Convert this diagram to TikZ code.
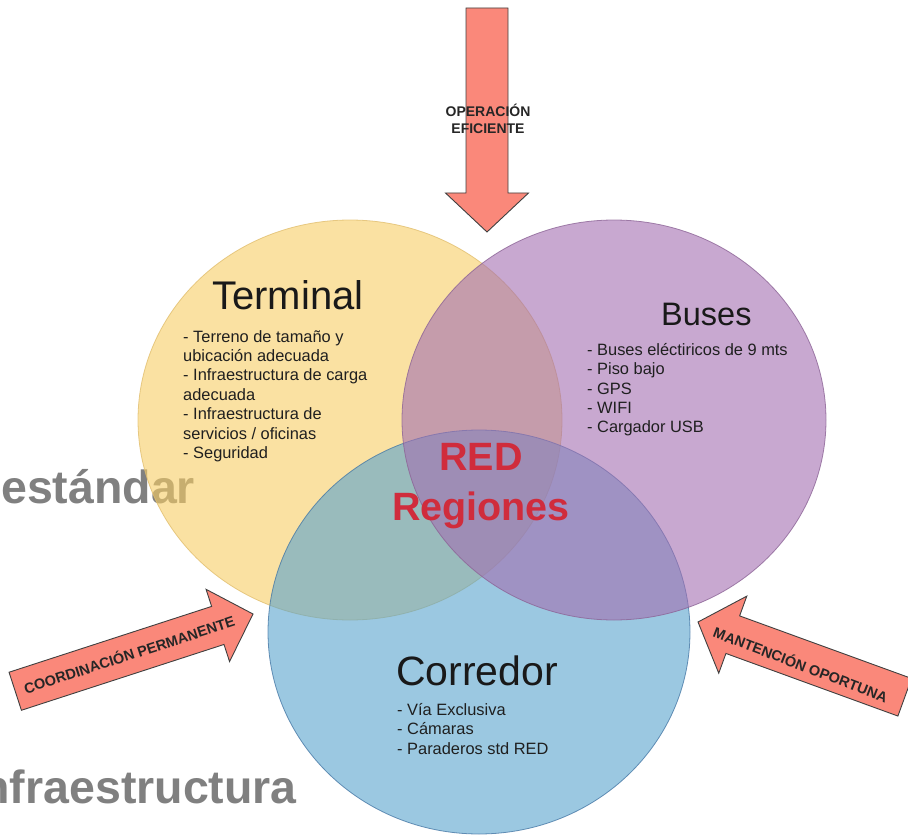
\documentclass[tikz,border=0pt]{standalone}
\usepackage{fontspec}
\setmainfont{Liberation Sans}
\definecolor{cYellow}{RGB}{247,205,100}
\definecolor{cPurple}{RGB}{163,110,177}
\definecolor{cBlue}{RGB}{88,163,205}
\definecolor{eYellow}{RGB}{225,190,110}
\definecolor{ePurple}{RGB}{140,100,150}
\definecolor{eBlue}{RGB}{70,120,165}
\definecolor{salmon}{RGB}{250,136,122}
\definecolor{redtxt}{RGB}{208,44,60}
\definecolor{graytxt}{RGB}{128,128,128}
\tikzset{
  venn/.style={fill opacity=0.6},
  vennedge/.style={draw opacity=0.8, line width=0.8pt},
  bigarrow/.style={fill=salmon, draw=black!75, line width=0.9pt, line join=miter},
  title/.style={anchor=base west, inner sep=0pt, text=black!90, font=\fontsize{40}{42}\selectfont},
  listtxt/.style={anchor=north west, inner sep=0pt, align=left, text=black!88, font=\fontsize{16.4}{19.4}\selectfont},
  arrowtxt/.style={inner sep=0pt, text=black!85, font=\bfseries\fontsize{14.5}{17.5}\selectfont},
  bgtxt/.style={inner sep=0pt, text=graytxt, font=\bfseries\fontsize{46.5}{50}\selectfont},
}
\begin{document}
\begin{tikzpicture}[x=1pt,y=-1pt]
\useasboundingbox (0,0) rectangle (908,840);
\begin{scope}
\clip (0,0) rectangle (908,840);
% background texts
\node[bgtxt, anchor=base west] (est) at (1,503) {estándar};
\node[bgtxt, anchor=base east] (infra) at (297,803) {Infraestructura};
% circles
\fill[cYellow, venn] (350,420) ellipse [x radius=212, y radius=200];
\draw[eYellow, vennedge] (350,420) ellipse [x radius=212, y radius=200];
\fill[cBlue, venn] (479,632) ellipse [x radius=211, y radius=202];
\draw[eBlue, vennedge] (479,632) ellipse [x radius=211, y radius=202];
\fill[cPurple, venn] (614,420) ellipse [x radius=212, y radius=200];
\draw[ePurple, vennedge] (614,420) ellipse [x radius=212, y radius=200];
% top arrow
\begin{scope}[shift={(487,232)}, rotate=-90]
\draw[bigarrow] (-224,-21) -- (-39,-21) -- (-39,-41.5) -- (0,0) -- (-39,41.5) -- (-39,21) -- (-224,21) -- cycle;
\end{scope}
% left arrow
\begin{scope}[shift={(253,614)}, rotate=18]
\draw[bigarrow] (-250,-20) -- (-37,-20) -- (-37,-38) -- (0,0) -- (-37,38) -- (-37,20) -- (-250,20) -- cycle;
\end{scope}
% right arrow
\begin{scope}[shift={(698,622)}, rotate=160]
\draw[bigarrow] (-220,-20) -- (-37,-20) -- (-37,-41) -- (0,0) -- (-37,41) -- (-37,20) -- (-220,20) -- cycle;
\end{scope}
\end{scope}
% arrow texts
\node[arrowtxt, align=center, font=\bfseries\fontsize{14}{17.5}\selectfont] (opef) at (488,119) {OPERACIÓN\\EFICIENTE};
\node[arrowtxt, rotate=18] (coord) at (129,654) {COORDINACIÓN PERMANENTE};
\node[arrowtxt, rotate=-21] (mant) at (801,664) {MANTENCIÓN OPORTUNA};
% titles
\node[title] (term) at (212,309) {Terminal};
\node[title, font=\fontsize{32.5}{34}\selectfont] (bus) at (661,325) {Buses};
\node[title, font=\fontsize{41}{43}\selectfont] (corr) at (396,685) {Corredor};
% lists
\node[listtxt] (termlist) at (183,330) {- Terreno de tamaño y\\ubicación adecuada\\- Infraestructura de carga\\adecuada\\- Infraestructura de\\servicios / oficinas\\- Seguridad};
\node[listtxt] (buslist) at (587,343) {- Buses eléctiricos de 9 mts\\- Piso bajo\\- GPS\\- WIFI\\- Cargador USB};
\node[listtxt] (corrlist) at (397,703) {- Vía Exclusiva\\- Cámaras\\- Paraderos std RED};
% center
\node[inner sep=0pt, text=redtxt, font=\bfseries\fontsize{39.5}{50}\selectfont, align=center, anchor=base] (red) at (481,520) {RED\\Regiones};
\end{tikzpicture}
\end{document}
